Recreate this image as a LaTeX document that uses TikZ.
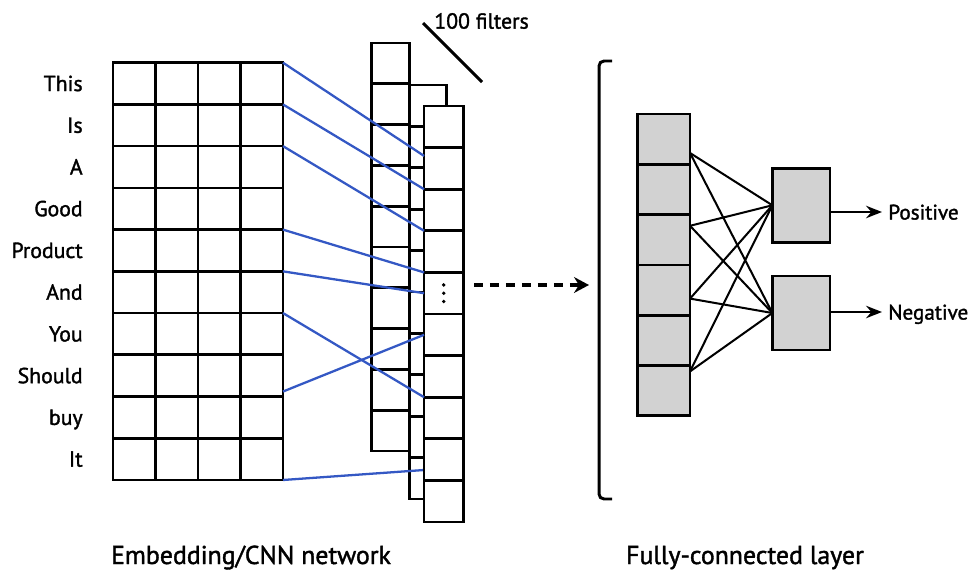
\documentclass[tikz,border=0pt]{standalone}
\usepackage{fontspec}
\setmainfont{PT Sans}[FakeBold=1.5]
\usetikzlibrary{arrows.meta,calc}
\definecolor{linkblue}{RGB}{52,88,196}
\definecolor{cellgray}{RGB}{210,210,210}

\begin{document}
\begin{tikzpicture}[x=0.02cm, y=-0.02cm,
		cell/.style={draw, line width=1.5pt, fill=white, inner sep=0pt, outer sep=0pt},
		word/.style={anchor=base east, inner sep=0pt, font=\fontsize{12.4}{14}\selectfont},
		link/.style={draw=linkblue, line width=1.3pt},
		wire/.style={line width=1.15pt},
		outarr/.style={line width=1.5pt, -{Stealth[length=9pt,width=7pt]}},
		lbl/.style={anchor=west, font=\fontsize{12}{14}\selectfont, inner xsep=0.12cm, inner ysep=0pt, text height=8.6pt, text depth=0pt},
		caption/.style={anchor=base, inner sep=0pt, font=\fontsize{14.7}{18}\selectfont}]
	\useasboundingbox (0,0) rectangle (970,571);
	% sentence: one row per word
	\foreach \w [count=\r] in {This,Is,A,Good,Product,And,You,Should,buy,It} {
		\node[word] (w\r) at (83,{41.835+41.73*\r+7.5}) {\w};
		\foreach \c in {1,...,4}
			\node[cell, minimum width=0.85cm, minimum height=0.8346cm] (g\r-\c) at ({91.75+42.5*\c},{41.835+41.73*\r}) {};
	}
	% filter maps, back one first
	\foreach \k in {1,...,10}
		\node[cell, minimum width=0.74cm, minimum height=0.828cm] (s2-\k) at (428.2,{64.3+41.4*\k}) {};
	\foreach \k in {1,...,10}
		\node[cell, minimum width=0.786cm, minimum height=0.832cm, draw=none, fill=none] (s3-\k) at (443.7,{85.2+41.6*\k}) {};
	\draw[link] (g10-4.south east) -- ($(s3-9.south west)!0.25!(s3-9.north west)$);
	\foreach \k in {1,...,10}
		\node[cell, minimum width=0.75cm, minimum height=0.816cm] (s1-\k) at (390.5,{22.6+40.8*\k}) {};
	\foreach \k in {1,...,10}
		\node[cell, minimum width=0.786cm, minimum height=0.832cm] at (s3-\k) {};
	\foreach \d in {-8.3,0,8.3}
		\fill ($(s3-5.center)+(0,\d)$) circle (1.9);
	% convolution windows
	\draw[link] (g1-4.north east) -- ($(s3-2.north west)!0.2!(s3-2.south west)$);
	\draw[link] (g2-4.north east) -- (s3-2.south west);
	\draw[link] (g3-4.north east) -- (s3-3.south west);
	\draw[link] (g5-4.north east) -- (s3-4.south west);
	\draw[link] (g6-4.north east) -- (s3-5.west);
	\draw[link] (g7-4.north east) -- (s3-7.south west);
	\draw[link] ($(g9-4.north east)+(0,-5)$) -- (s3-6.west);
	% filter count
	\coordinate (fa) at (423,23);
	\coordinate (fb) at (482,82);
	\draw[line width=1.8pt] (fa) -- (fb);
	\node[anchor=west, font=\fontsize{12.4}{14}\selectfont, inner sep=0pt] (nfilt) at (434,21) {100 filters};
	% to the classifier
	\coordinate (dstart) at (474,285);
	\coordinate (dend) at (589,285);
	\draw[line width=2pt, dash pattern=on 5.4pt off 3.7pt, -{Stealth[length=8.5pt,width=9pt]}] (dstart) -- (dend);
	\draw[line width=1.7pt, rounded corners=0.1cm] (612,61) -- (599,61) -- (599,499) -- (612,499);
	% fully-connected layer
	\foreach \k in {1,...,6}
		\node[cell, fill=cellgray, minimum width=1.046cm, minimum height=1.006cm] (fc\k) at (663.9,{88.85+50.3*\k}) {};
	\node[cell, fill=cellgray, minimum width=1.154cm, minimum height=1.48cm] (pos) at (801.2,205.3) {};
	\node[cell, fill=cellgray, minimum width=1.154cm, minimum height=1.48cm] (neg) at (801.2,313) {};
	\foreach \i in {1,...,4} {
		\coordinate (src\i) at ($(fc1.north east)+(0,{39+72.8*(\i-1)})$);
		\draw[wire] (src\i) -- (pos.west);
		\draw[wire] (src\i) -- (neg.west);
	}
	\node[lbl] (plabel) at (882,212) {Positive};
	\node[lbl] (nlabel) at (882,312) {Negative};
	\draw[outarr] (pos.east |- plabel.west) -- (plabel.west);
	\draw[outarr] (neg.east |- nlabel.west) -- (nlabel.west);
	% captions
	\node[caption] (cleft) at (251,564) {Embedding/CNN network};
	\node[caption] (cright) at (745,564) {Fully-connected layer};
\end{tikzpicture}
\end{document}
